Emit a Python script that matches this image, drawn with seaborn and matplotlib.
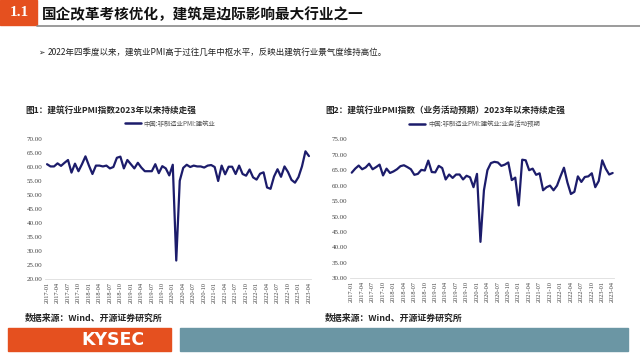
import matplotlib
matplotlib.use("Agg")
import matplotlib.pyplot as plt
from matplotlib.patches import Rectangle
from matplotlib.lines import Line2D
import seaborn as sns
import pandas as pd
import numpy as np

# ---------------- data ----------------
months = [f"{y}-{m:02d}" for y in range(2017, 2024) for m in range(1, 13)][:76]  # 2017-01 .. 2023-04

pmi_construction = [
    61.0, 60.2, 60.2, 61.3, 60.4, 61.5, 62.5, 58.0, 61.2, 58.5, 61.0, 63.8,
    60.5, 57.5, 60.5, 60.5, 60.2, 60.5, 59.5, 60.0, 63.3, 63.7, 59.5, 62.5,
    61.0, 59.5, 61.5, 59.8, 58.5, 58.5, 58.5, 61.0, 57.8, 60.3, 59.5, 57.0,
    60.8, 26.6, 55.1, 59.7, 60.8, 60.0, 60.5, 60.2, 60.2, 59.8, 60.5, 60.7,
    60.0, 55.0, 60.5, 57.4, 60.1, 60.1, 57.5, 60.5, 57.5, 56.9, 59.1, 56.3,
    55.5, 57.6, 58.1, 52.7, 52.2, 56.6, 59.2, 56.5, 60.2, 58.2, 55.4, 54.4,
    56.4, 60.2, 65.6, 63.9,
]

pmi_construction_expect = [
    64.2, 65.5, 66.5, 65.3, 65.9, 67.1, 65.3, 66.0, 66.8, 63.3, 65.5, 64.1,
    64.6, 65.3, 66.3, 66.6, 66.0, 65.3, 63.5, 63.8, 65.1, 64.9, 68.1, 64.4,
    64.3, 66.4, 65.7, 62.0, 63.6, 62.5, 63.6, 63.6, 62.0, 63.2, 62.7, 59.5,
    63.8, 41.8, 58.5, 65.0, 67.3, 67.7, 67.5, 66.4, 66.8, 67.5, 61.8, 62.6,
    53.6, 68.4, 68.2, 65.0, 65.5, 63.5, 64.0, 58.5, 59.5, 60.0, 58.5, 60.0,
    63.0, 65.8, 61.0, 57.3, 58.0, 63.0, 61.2, 62.8, 63.0, 64.0, 59.5, 61.5,
    68.2, 65.5, 63.6, 64.1,
]

name1 = "中国:非制造业PMI:建筑业"
name2 = "中国:非制造业PMI:建筑业:业务活动预期"
title1 = "图1：建筑行业PMI指数2023年以来持续走强"
title2 = "图2：建筑行业PMI指数（业务活动预期）2023年以来持续走强"
header = "国企改革考核优化，建筑是边际影响最大行业之一"
bullet = "2022年四季度以来，建筑业PMI高于过往几年中枢水平，反映出建筑行业景气度维持高位。"
source = "数据来源：Wind、开源证券研究所"

df = pd.DataFrame({"idx": np.arange(len(months)), "month": months,
                   "v1": pmi_construction, "v2": pmi_construction_expect})

# ---------------- style ----------------
sns.set_theme(style="white")
plt.rcParams["font.family"] = ["Noto Sans CJK SC", "DejaVu Sans"]
plt.rcParams["axes.unicode_minus"] = False

W, H = 640, 360
fig = plt.figure(figsize=(6.4, 3.6), dpi=100)
fig.patch.set_facecolor("white")

def fx(x): return x / W
def fy(y): return 1 - y / H

RED = "#e5501f"
NAVY = "#1c1c6b"
SERIF = ["Liberation Serif", "DejaVu Serif"]

# header
fig.patches.append(Rectangle((fx(0), fy(25)), fx(37), 25 / H, transform=fig.transFigure,
                             color=RED, zorder=1))
fig.add_artist(Line2D([fx(37), fx(640)], [fy(26), fy(26)], transform=fig.transFigure,
                      color="#8a8a8a", lw=1.2))
fig.text(fx(19), fy(13), "1.1", color="white", fontsize=11, fontweight="bold",
         family=SERIF, ha="center", va="center")
fig.text(fx(42), fy(14), header, fontsize=10.5, fontweight="bold", ha="left", va="center",
         color="#111111")
fig.text(fx(38), fy(52), "➢", fontsize=5.5, ha="left", va="center", family=["DejaVu Sans"],
         color="#222222")
fig.text(fx(48), fy(52), bullet, fontsize=6.1, ha="left", va="center", color="#222222")

# figure titles and sources
fig.text(fx(25), fy(110), title1, fontsize=6.2, fontweight="bold", ha="left", va="center")
fig.text(fx(325), fy(110), title2, fontsize=6.2, fontweight="bold", ha="left", va="center")
fig.text(fx(25), fy(318), source, fontsize=6.4, fontweight="bold", ha="left", va="center")
fig.text(fx(325), fy(318), source, fontsize=6.4, fontweight="bold", ha="left", va="center")

# footer
fig.patches.append(Rectangle((fx(8), fy(351)), fx(163), 23 / H, transform=fig.transFigure,
                             color=RED, zorder=1))
fig.patches.append(Rectangle((fx(180), fy(351)), fx(448), 23 / H, transform=fig.transFigure,
                             color="#6b96a4", zorder=1))
fig.text(fx(113), fy(340), "KYSEC", color="white", fontsize=12.5, fontweight="bold",
         ha="center", va="center", family=["DejaVu Sans"])

def draw(ax, col, name, ylo, yhi, legx):
    sns.lineplot(data=df, x="idx", y=col, ax=ax, color=NAVY, lw=1.6, label=name)
    ax.set_xlim(-0.5, len(months) - 0.5)
    ax.set_ylim(ylo, yhi)
    ax.set_yticks(np.arange(ylo, yhi + 0.1, 5))
    ax.set_yticklabels([f"{v:.2f}" for v in np.arange(ylo, yhi + 0.1, 5)],
                       fontsize=5, color="#444444", family=SERIF)
    tick_idx = list(range(0, len(months), 3))
    ax.set_xticks(tick_idx)
    ax.set_xticklabels([months[i] for i in tick_idx], rotation=90, fontsize=4.6,
                       color="#444444", family=SERIF)
    ax.tick_params(axis="both", length=0, pad=2)
    ax.set_xlabel("")
    ax.set_ylabel("")
    for s in ["top", "right", "left"]:
        ax.spines[s].set_visible(False)
    ax.spines["bottom"].set_color("#dddddd")
    ax.spines["bottom"].set_linewidth(0.6)
    leg = ax.legend(loc="center", bbox_to_anchor=(legx, 1.11), frameon=False,
                    fontsize=4.6, handlelength=2.6, handletextpad=0.4)
    for t in leg.get_texts():
        t.set_color("#555555")
    for l in leg.get_lines():
        l.set_linewidth(1.8)

ax1 = fig.add_axes([fx(45.3), fy(279), (310.7 - 45.3) / W, (279 - 139) / H])
draw(ax1, "v1", name1, 20, 70, 0.47)

ax2 = fig.add_axes([fx(350), fy(278.3), (614.4 - 350) / W, (278.3 - 139.3) / H])
draw(ax2, "v2", name2, 30, 75, 0.47)

fig.savefig("out.png", dpi=100, facecolor="white")
